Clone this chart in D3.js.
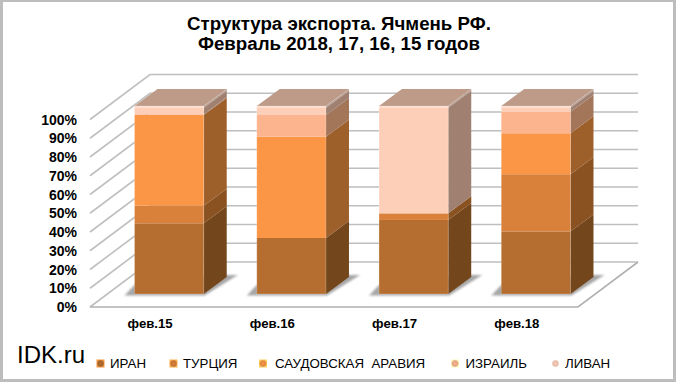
<!DOCTYPE html>
<html>
<head>
<meta charset="utf-8">
<script src="https://cdn.jsdelivr.net/npm/d3@7"></script>
<style>
  html, body { margin: 0; padding: 0; background: #fff; }
  text { font-family: "Liberation Sans", Arial, sans-serif; fill: #000; white-space: pre; }
</style>
</head>
<body>
<svg id="chart" width="680" height="385"></svg>
<script>
const months = ["фев.15", "фев.16", "фев.17", "фев.18"];
const iran = [37.6, 29.8, 39.4, 33.3];
const turkey = [9.4, 0, 3.5, 30.4];
const saudi = [48.2, 53.9, 0, 21.8];
const israel = [0.4, 11.5, 0, 11.3];
const lebanon = [4.4, 4.8, 57.1, 3.2];
const seriesNames = ["ИРАН", "ТУРЦИЯ", "САУДОВСКАЯ  АРАВИЯ", "ИЗРАИЛЬ", "ЛИВАН"];
const ticks = [0, 10, 20, 30, 40, 50, 60, 70, 80, 90, 100];

const frontColors = ["#b66e30", "#d9803a", "#fa9646", "#fbb48d", "#fdcfb9"];
const sideColors = ["#74461c", "#8a5220", "#9e602b", "#a37659", "#a08070"];
const legendX = [96.5, 169.5, 259, 451, 551.5];
const legendTextX = [110, 183, 275, 465.5, 565];

const svg = d3.select("#chart");

const table = months.map((m, i) => ({
  month: m,
  s0: iran[i], s1: turkey[i], s2: saudi[i], s3: israel[i], s4: lebanon[i]
}));
const keys = ["s0", "s1", "s2", "s3", "s4"];
const stacked = d3.stack().keys(keys)(table);

// wall depth, from the front edge of the floor to the back wall
const wallDx = 60, wallDy = 45;
// bars stand a bit behind the front edge and have their own depth
const barDx = 23, barDy = 17;

const yWall = d3.scaleLinear().domain([0, 100]).range([307, 119.5]);
const yBar = d3.scaleLinear().domain([0, 100]).range([294, 106]);
const xBar = d3.scaleBand().domain(months).range([108, 597]).paddingInner(0.434).paddingOuter(0.217);
const xLabel = d3.scaleBand().domain(months).range([90, 578]);

const poly = d3.line();

svg.append("rect")
  .attr("x", 1.5).attr("y", 0.5).attr("width", 673).attr("height", 380)
  .attr("fill", "#fff").attr("stroke", "#bdbdbd").attr("stroke-width", 3);

const defs = svg.append("defs");
defs.append("filter").attr("id", "soft")
  .attr("x", "-20%").attr("y", "-40%").attr("width", "140%").attr("height", "180%")
  .append("feGaussianBlur").attr("stdDeviation", 1.3);

frontColors.forEach((c, i) => {
  const g = defs.append("radialGradient").attr("id", "mark" + i);
  g.append("stop").attr("offset", "0%").attr("stop-color", c);
  g.append("stop").attr("offset", "65%").attr("stop-color", d3.color(c).darker(0.3));
  g.append("stop").attr("offset", "100%").attr("stop-color", d3.color(c).brighter(0.9));
});

// walls and floor
const wall = svg.append("g").attr("fill", "none").attr("stroke", "#bfbfbf").attr("stroke-width", 1.6);
ticks.forEach(t => {
  wall.append("path").attr("d", poly([
    [xLabel.range()[0], yWall(t)],
    [xLabel.range()[0] + wallDx, yWall(t) - wallDy],
    [xLabel.range()[1] + wallDx, yWall(t) - wallDy]
  ]));
});
wall.append("path").attr("d", poly([
  [xLabel.range()[0], yWall(0)],
  [xLabel.range()[1], yWall(0)],
  [xLabel.range()[1] + wallDx, yWall(0) - wallDy]
])).attr("stroke", "#b0b0b0");

// floor shadows
svg.append("g").selectAll("path").data(months).join("path")
  .attr("d", m => {
    const x0 = xBar(m), x1 = x0 + xBar.bandwidth(), b = yBar(0);
    return poly([
      [x0 - 10, b + 1.5], [x1 + 1, b + 1.5], [x1 + barDx + 11, b - barDy - 2],
      [x1 + barDx - 4, b - barDy - 2], [x0, b - 9]
    ]) + "Z";
  })
  .attr("fill", "#a6a6a6")
  .attr("filter", "url(#soft)");

// bars, one segment at a time
const bars = svg.append("g");
stacked.forEach((layer, si) => {
  const rows = layer.map((d, i) => ({ y0: d[0], y1: d[1], month: months[i] })).filter(d => d.y1 > d.y0);

  bars.append("g").selectAll("path").data(rows).join("path")
    .attr("d", d => {
      const x1 = xBar(d.month) + xBar.bandwidth();
      return poly([
        [x1, yBar(d.y0)], [x1 + barDx, yBar(d.y0) - barDy],
        [x1 + barDx, yBar(d.y1) - barDy], [x1, yBar(d.y1)]
      ]) + "Z";
    })
    .attr("fill", sideColors[si]);

  bars.append("g").selectAll("rect").data(rows).join("rect")
    .attr("x", d => xBar(d.month))
    .attr("y", d => yBar(d.y1))
    .attr("width", xBar.bandwidth())
    .attr("height", d => yBar(d.y0) - yBar(d.y1))
    .attr("fill", frontColors[si]);
});

// bar tops
bars.append("g").selectAll("path").data(months).join("path")
  .attr("d", m => {
    const x0 = xBar(m), x1 = x0 + xBar.bandwidth(), t = yBar(100);
    return poly([[x0, t], [x1, t], [x1 + barDx, t - barDy], [x0 + barDx, t - barDy]]) + "Z";
  })
  .attr("fill", "#bd9b88");

// light bevel along the top edges of each bar
bars.append("g").selectAll("path").data(months).join("path")
  .attr("d", m => {
    const x0 = xBar(m), x1 = x0 + xBar.bandwidth(), t = yBar(100);
    return poly([[x0, t + 1], [x1, t + 1], [x1 + barDx, t - barDy + 1]]);
  })
  .attr("fill", "none")
  .attr("stroke", "#fff")
  .attr("stroke-opacity", 0.3)
  .attr("stroke-width", 2);

// thin edges of the front face
bars.append("g").selectAll("rect").data(months).join("rect")
  .attr("x", m => xBar(m))
  .attr("y", yBar(100))
  .attr("width", xBar.bandwidth())
  .attr("height", yBar(0) - yBar(100))
  .attr("fill", "none")
  .attr("stroke", "#fff")
  .attr("stroke-opacity", 0.2);

// axis labels
svg.append("g").selectAll("text").data(ticks).join("text")
  .attr("x", 77)
  .attr("y", t => yWall(t) + 5)
  .attr("text-anchor", "end")
  .style("font-size", "14px")
  .style("font-weight", "bold")
  .text(t => t + "%");

svg.append("g").selectAll("text").data(months).join("text")
  .attr("x", m => xBar(m) + xBar.bandwidth() / 2 - 19)
  .attr("y", 328)
  .attr("text-anchor", "middle")
  .style("font-size", "13.2px")
  .style("font-weight", "bold")
  .text(m => m);

// title
const title = svg.append("g").attr("text-anchor", "middle")
  .style("font-size", "18.7px").style("font-weight", "bold");
title.append("text").attr("x", 339).attr("y", 29.5).text("Структура экспорта. Ячмень РФ.");
title.append("text").attr("x", 339).attr("y", 50).text("Февраль 2018, 17, 16, 15 годов");

// legend
const legend = svg.append("g");
legend.selectAll("rect").data(seriesNames).join("rect")
  .attr("x", (d, i) => legendX[i]).attr("y", 359.5).attr("width", 8).attr("height", 8)
  .attr("fill", (d, i) => `url(#mark${i})`);
legend.selectAll("text").data(seriesNames).join("text")
  .attr("x", (d, i) => legendTextX[i]).attr("y", 368)
  .style("font-size", "13.3px")
  .text(d => d);

svg.append("text").attr("x", 17).attr("y", 363)
  .style("font-size", "24px")
  .text("IDK.ru");
</script>
</body>
</html>
